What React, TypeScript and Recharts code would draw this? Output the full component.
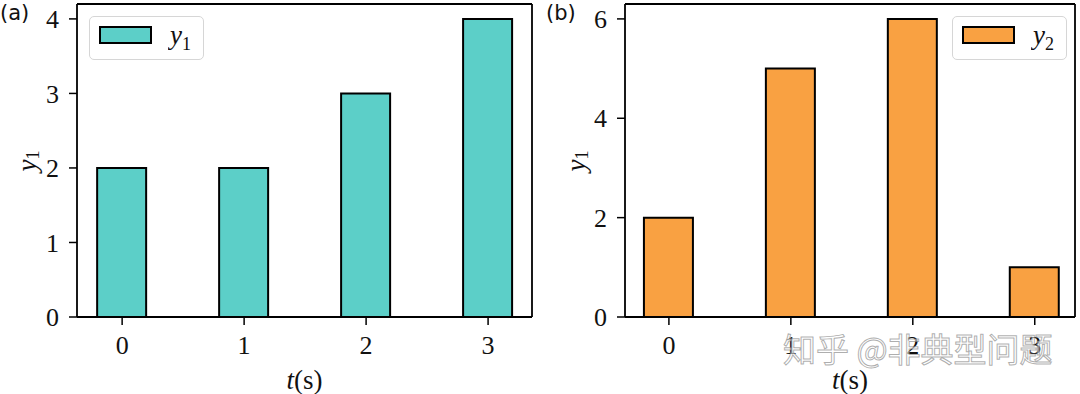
import React from 'react';
import { BarChart, Bar, XAxis, YAxis, Label, ReferenceLine } from 'recharts';

// data
const tValues = [0, 1, 2, 3];
const y1Values = [2, 2, 3, 4];
const y2Values = [2, 5, 6, 1];
const leftTicks = [0, 1, 2, 3, 4];
const rightTicks = [0, 2, 4, 6];

const SERIF = '"Liberation Serif", "DejaVu Serif", serif';
const SANS = '"DejaVu Sans", sans-serif';
const TEAL = '#5ccfc8';
const ORANGE = '#f9a142';

const leftData = tValues.map((t, i) => ({ t, y: y1Values[i] }));
const rightData = tValues.map((t, i) => ({ t, y: y2Values[i] }));

const tickStyle = { fill: '#111', fontSize: 26, fontFamily: SERIF };

// math-ish label: italic letter with upright subscript
const MathY = ({ sub }: { sub: string }) => (
  <>
    <tspan fontStyle="italic">y</tspan>
    <tspan fontSize={18} dy={6}>{sub}</tspan>
  </>
);

const XLabel = (props: any) => {
  const vb = props.viewBox;
  return (
    <text
      x={vb.x + vb.width / 2}
      y={389}
      textAnchor="middle"
      fontFamily={SERIF}
      fontSize={27}
      fill="#111"
    >
      <tspan fontStyle="italic">t</tspan>
      <tspan>(s)</tspan>
    </text>
  );
};

const YLabel = ({ x, cy }: { x: number; cy: number }) => (props: any) => (
  <text
    x={x}
    y={cy}
    transform={`rotate(-90 ${x} ${cy})`}
    textAnchor="middle"
    dominantBaseline="central"
    fontFamily={SERIF}
    fontSize={27}
    fill="#111"
  >
    <MathY sub="1" />
  </text>
);

function Panel({
  data,
  color,
  yMax,
  yTicks,
  xDomain,
  yAxisWidth,
  rightMargin,
  yLabelX,
}: {
  data: { t: number; y: number }[];
  color: string;
  yMax: number;
  yTicks: number[];
  xDomain: [number, number];
  yAxisWidth: number;
  rightMargin: number;
  yLabelX: number;
}) {
  return (
    <BarChart
      width={540}
      height={394}
      data={data}
      margin={{ top: 4, right: rightMargin, left: 0, bottom: 0 }}
    >
      <XAxis
        dataKey="t"
        type="number"
        domain={xDomain}
        ticks={tValues}
        allowDataOverflow
        height={77}
        axisLine={{ stroke: '#000', strokeWidth: 1.8 }}
        tickLine={{ stroke: '#000', strokeWidth: 1.5 }}
        tickSize={8}
        tickMargin={11}
        tick={tickStyle}
      >
        <Label content={XLabel} />
      </XAxis>
      <YAxis
        type="number"
        domain={[0, yMax]}
        ticks={yTicks}
        allowDataOverflow
        width={yAxisWidth}
        axisLine={{ stroke: '#000', strokeWidth: 1.8 }}
        tickLine={{ stroke: '#000', strokeWidth: 1.5 }}
        tickSize={8}
        tickMargin={10}
        tick={tickStyle}
      >
        <Label content={YLabel({ x: yLabelX, cy: 161 })} />
      </YAxis>
      {/* top and right spines */}
      <ReferenceLine y={yMax} stroke="#000" strokeWidth={1.8} ifOverflow="visible" />
      <ReferenceLine x={xDomain[1]} stroke="#000" strokeWidth={1.8} ifOverflow="visible" />
      <Bar dataKey="y" fill={color} stroke="#000" strokeWidth={2} barSize={49} isAnimationActive={false} />
    </BarChart>
  );
}

const LegendBox = ({ left, color, sub }: { left: number; color: string; sub: string }) => (
  <div
    style={{
      position: 'absolute',
      left,
      top: 16,
      width: 115,
      height: 44,
      border: '1px solid #d6d6d6',
      borderRadius: 5,
      background: 'rgba(255,255,255,0.85)',
      boxSizing: 'border-box',
    }}
  >
    <div
      style={{
        position: 'absolute',
        left: 9,
        top: 9,
        width: 53,
        height: 18,
        background: color,
        border: '2px solid #000',
        boxSizing: 'border-box',
      }}
    />
    <svg style={{ position: 'absolute', left: 78, top: 2 }} width={36} height={38}>
      <text x={2} y={25} fontFamily={SERIF} fontSize={27} fill="#111">
        <MathY sub={sub} />
      </text>
    </svg>
  </div>
);

export default function App() {
  return (
    <div style={{ position: 'absolute', left: 0, top: 0, width: 1080, height: 394, background: '#fff', overflow: 'hidden' }}>
      <div style={{ position: 'absolute', left: 0, top: 0 }}>
        <Panel
          data={leftData}
          color={TEAL}
          yMax={4.2}
          yTicks={leftTicks}
          xDomain={[-0.37, 3.36]}
          yAxisWidth={77}
          rightMargin={8}
          yLabelX={27}
        />
      </div>
      <div style={{ position: 'absolute', left: 540, top: 0 }}>
        <Panel
          data={rightData}
          color={ORANGE}
          yMax={6.3}
          yTicks={rightTicks}
          xDomain={[-0.36, 3.33]}
          yAxisWidth={85}
          rightMargin={5}
          yLabelX={36}
        />
      </div>
      <LegendBox left={89} color={TEAL} sub="1" />
      <LegendBox left={952} color={ORANGE} sub="2" />
      <div style={{ position: 'absolute', left: 0, top: 1, fontFamily: SANS, fontSize: 21, color: '#111' }}>(a)</div>
      <div style={{ position: 'absolute', left: 546, top: 1, fontFamily: SANS, fontSize: 21, color: '#111' }}>(b)</div>
      <div
        style={{
          position: 'absolute',
          left: 783,
          top: 328,
          fontFamily: '"Noto Sans CJK SC", sans-serif',
          fontSize: 33,
          lineHeight: '40px',
          color: 'rgba(255,255,255,0.55)',
          WebkitTextStroke: '1px rgba(120,120,120,0.6)',
          whiteSpace: 'nowrap',
        }}
      >
        知乎 @非典型问题
      </div>
    </div>
  );
}
